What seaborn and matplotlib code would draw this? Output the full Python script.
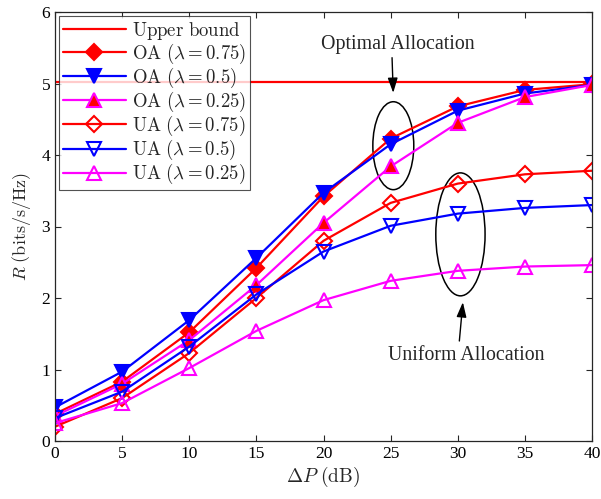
import numpy as np
import pandas as pd
import matplotlib
matplotlib.use("Agg")
import matplotlib.pyplot as plt
import seaborn as sns
from matplotlib.patches import Ellipse

# ---- data ----
delta_p = [0, 5, 10, 15, 20, 25, 30, 35, 40]
upper_bound = [5.02] * 9
oa_075 = [0.38, 0.83, 1.52, 2.42, 3.42, 4.23, 4.68, 4.91, 4.99]
oa_050 = [0.47, 0.97, 1.69, 2.56, 3.47, 4.15, 4.62, 4.86, 4.98]
oa_025 = [0.35, 0.80, 1.41, 2.18, 3.05, 3.84, 4.45, 4.81, 4.98]
ua_075 = [0.20, 0.60, 1.23, 2.00, 2.80, 3.33, 3.60, 3.73, 3.78]
ua_050 = [0.32, 0.69, 1.32, 2.05, 2.65, 3.01, 3.18, 3.26, 3.30]
ua_025 = [0.25, 0.53, 1.02, 1.54, 1.97, 2.24, 2.38, 2.44, 2.46]
x_ticks = [0, 5, 10, 15, 20, 25, 30, 35, 40]
y_ticks = [0, 1, 2, 3, 4, 5, 6]

sns.set_style("ticks")
plt.rcParams['font.family'] = ['Liberation Serif', 'DejaVu Serif']
plt.rcParams['mathtext.fontset'] = 'cm'

fig = plt.figure(figsize=(6.01, 4.99), dpi=100)
ax = fig.add_axes([55/601, 1 - 441/499, (592-55)/601, (441-12)/499])

lw = 1.6
ms = 9
series = [
    (upper_bound, r'$\mathrm{Upper\ bound}$', dict(color='red', marker=None)),
    (oa_075, r'$\mathrm{OA}\ (\lambda = 0.75)$', dict(color='red', marker='D', markerfacecolor='red', markeredgecolor='red', markersize=ms-1)),
    (oa_050, r'$\mathrm{OA}\ (\lambda = 0.5)$', dict(color='blue', marker='v', markerfacecolor='blue', markeredgecolor='blue', markersize=ms+1)),
    (oa_025, r'$\mathrm{OA}\ (\lambda = 0.25)$', dict(color='magenta', marker='^', markerfacecolor='red', markeredgecolor='magenta', markersize=ms+1)),
    (ua_075, r'$\mathrm{UA}\ (\lambda = 0.75)$', dict(color='red', marker='D', markerfacecolor='none', markeredgecolor='red', markersize=ms-1)),
    (ua_050, r'$\mathrm{UA}\ (\lambda = 0.5)$', dict(color='blue', marker='v', markerfacecolor='none', markeredgecolor='blue', markersize=ms+1)),
    (ua_025, r'$\mathrm{UA}\ (\lambda = 0.25)$', dict(color='magenta', marker='^', markerfacecolor='none', markeredgecolor='magenta', markersize=ms+1)),
]
for vals, label, kw in series:
    sns.lineplot(x=delta_p, y=vals, ax=ax, label=label, linewidth=lw,
                 markeredgewidth=1.5, **kw)

ax.set_xlim(0, 40)
ax.set_ylim(0, 6)
ax.set_xticks(x_ticks)
ax.set_yticks(y_ticks)
ax.tick_params(direction='in', top=True, right=True, labelsize=12.5, length=4, width=0.8, colors='#262626', labelcolor='black')
for s in ax.spines.values():
    s.set_visible(True)
    s.set_linewidth(0.9)
    s.set_color('#262626')
ax.set_xlabel(r'$\Delta P\ \mathrm{(dB)}$', fontsize=14, labelpad=2)
ax.set_ylabel(r'$R\ \mathrm{(bits/s/Hz)}$', fontsize=13, labelpad=6)

leg = ax.legend(loc='upper left', fontsize=13.5, frameon=True, fancybox=False,
                edgecolor='#262626', borderaxespad=0.2, handlelength=3.4,
                labelspacing=0.0, borderpad=0.2, handletextpad=0.3)
leg.get_frame().set_linewidth(0.8)

# annotations
ax.add_patch(Ellipse((25.2, 4.13), 3.05, 1.23, fill=False, edgecolor='black', linewidth=1.1))
ax.add_patch(Ellipse((30.2, 2.89), 3.67, 1.72, fill=False, edgecolor='black', linewidth=1.1))
ax.text(25.5, 5.54, 'Optimal Allocation', ha='center', va='center', fontsize=14.3)
ax.annotate('', xy=(25.2, 4.83), xytext=(25.1, 5.40),
            arrowprops=dict(arrowstyle='-|>,head_length=0.9,head_width=0.3', color='black', lw=1.0))
ax.text(30.6, 1.19, 'Uniform Allocation', ha='center', va='center', fontsize=14.3)
ax.annotate('', xy=(30.4, 1.98), xytext=(30.1, 1.36),
            arrowprops=dict(arrowstyle='-|>,head_length=0.9,head_width=0.3', color='black', lw=1.0))

fig.savefig('out.png', dpi=100)
